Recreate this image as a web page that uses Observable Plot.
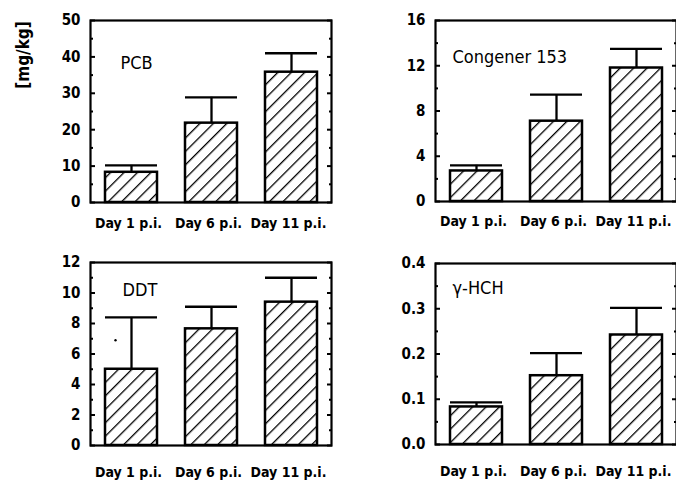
<!DOCTYPE html>
<html>
<head>
<meta charset="utf-8">
<script src="https://cdn.jsdelivr.net/npm/d3@7"></script>
<script src="https://cdn.jsdelivr.net/npm/@observablehq/plot@0.6"></script>
<style>
  body { margin: 0; background: #fff; }
  #wrap { position: relative; width: 676px; height: 489px; overflow: hidden; background: #fff; }
  #wrap > div.panel { position: absolute; }
  #ylab { position: absolute; left: 23px; top: 55px; transform: translate(-50%, -50%) rotate(-90deg);
    font: bold 17px "DejaVu Sans Condensed", sans-serif; white-space: nowrap; }
  svg text { fill: #000; }
</style>
</head>
<body>
<svg width="0" height="0" style="position:absolute">
  <defs>
    <pattern id="hatch" patternUnits="userSpaceOnUse" width="9.5" height="9.5" patternTransform="rotate(45)">
      <rect width="9.5" height="9.5" fill="#fff"></rect>
      <line x1="0" y1="0" x2="0" y2="9.5" stroke="#000" stroke-width="2.6"></line>
    </pattern>
  </defs>
</svg>
<div id="wrap"><div id="ylab">[mg/kg]</div></div>
<script>
const categories = ["Day 1 p.i.", "Day 6 p.i.", "Day 11 p.i."];

const pcbMean = [8.3, 21.8, 35.8];
const pcbSD   = [1.9, 7.1, 5.2];
const pcbTicks = [0, 10, 20, 30, 40, 50];

const congMean = [2.7, 7.1, 11.8];
const congSD   = [0.5, 2.35, 1.7];
const congTicks = [0, 4, 8, 12, 16];

const ddtMean = [5.0, 7.65, 9.4];
const ddtSD   = [3.4, 1.45, 1.6];
const ddtTicks = [0, 2, 4, 6, 8, 10, 12];
const ddtSpeck = [6.9];

const hchMean = [0.083, 0.152, 0.242];
const hchSD   = [0.01, 0.05, 0.06];
const hchTicks = [0.0, 0.1, 0.2, 0.3, 0.4];

const font = '"DejaVu Sans Condensed", sans-serif';

// pick a narrow font for the category labels if one is installed
function hasFont(name) {
  const c = document.createElement("canvas").getContext("2d");
  c.font = "20px monospace";
  const base = c.measureText("Day 11 p.i. mmmWW").width;
  c.font = `20px "${name}", monospace`;
  return c.measureText("Day 11 p.i. mmmWW").width !== base;
}
const narrow = hasFont("Liberation Sans Narrow");
const catFont = narrow ? '"Liberation Sans Narrow", sans-serif' : font;
const catSize = narrow ? 17 : 14;

function panel({title, mean, sd, ticks, minor, fmt, left, top, w, h, m, tdx, tdy, labelDy, speck}) {
  const data = categories.map((c, i) => ({c, v: mean[i], hi: mean[i] + sd[i]}));
  const ymax = ticks[ticks.length - 1];
  const marks = [
    Plot.rectY(data, {x: "c", y: "v", fill: "url(#hatch)", stroke: "#000", strokeWidth: 2.5}),
    Plot.ruleX(data, {x: "c", y1: "v", y2: "hi", stroke: "#000", strokeWidth: 2.3}),
    Plot.tickY(data, {x: "c", y: "hi", stroke: "#000", strokeWidth: 2.3}),
    Plot.axisY({ticks, tickSize: 0, tickPadding: 10, tickFormat: fmt,
      fontSize: 15, fontWeight: "bold", fontFamily: font}),
    Plot.axisY({ticks, anchor: "left", tickSize: -5, tickFormat: () => "", strokeWidth: 2}),
    Plot.axisY({ticks: minor, anchor: "left", tickSize: -3, tickFormat: () => "", strokeWidth: 2}),
    Plot.axisY({ticks, anchor: "right", tickSize: -5, tickFormat: () => "", strokeWidth: 2}),
    Plot.axisY({ticks: minor, anchor: "right", tickSize: -3, tickFormat: () => "", strokeWidth: 2}),
    Plot.axisX({tickSize: 0, tickPadding: labelDy, fontSize: catSize, fontWeight: "bold", fontFamily: catFont, dx: -3}),
    Plot.frame({stroke: "#000", strokeWidth: 2.2}),
    Plot.text([title], {frameAnchor: "top-left", dx: tdx, dy: tdy, textAnchor: "start", lineAnchor: "middle",
      fontSize: 18, fontFamily: font, fill: "#000"})
  ];
  if (speck) marks.push(Plot.dot(speck, {x: () => categories[0], y: d => d, r: 1.2, fill: "#000", dx: -16}));
  const chart = Plot.plot({
    width: w, height: h,
    marginLeft: m[0], marginRight: m[1], marginTop: m[2], marginBottom: m[3],
    style: {background: "transparent", color: "#000"},
    x: {type: "band", domain: categories, paddingInner: 0.35, paddingOuter: 0.175, label: null},
    y: {domain: [0, ymax], label: null},
    marks
  });
  const d = document.createElement("div");
  d.className = "panel";
  d.style.left = left + "px";
  d.style.top = top + "px";
  d.appendChild(chart);
  document.getElementById("wrap").appendChild(d);
}

function minorOf(ticks) {
  const out = [];
  for (let i = 0; i < ticks.length - 1; i++) out.push((ticks[i] + ticks[i + 1]) / 2);
  return out;
}

panel({title: "PCB", mean: pcbMean, sd: pcbSD, ticks: pcbTicks, minor: minorOf(pcbTicks), fmt: d3.format("d"),
  left: 0, top: 0, w: 338, h: 245, m: [90, 7, 20, 43], tdx: 30, tdy: 43, labelDy: 16});
panel({title: "Congener 153", mean: congMean, sd: congSD, ticks: congTicks, minor: minorOf(congTicks), fmt: d3.format("d"),
  left: 338, top: 0, w: 338, h: 245, m: [97, 0, 20, 44], tdx: 17, tdy: 37, labelDy: 15});
panel({title: "DDT", mean: ddtMean, sd: ddtSD, ticks: ddtTicks, minor: minorOf(ddtTicks), fmt: d3.format("d"),
  left: 0, top: 245, w: 338, h: 244, m: [90, 7, 17, 44], tdx: 32, tdy: 28, labelDy: 22, speck: ddtSpeck});
panel({title: "γ-HCH", mean: hchMean, sd: hchSD, ticks: hchTicks, minor: minorOf(hchTicks), fmt: d3.format(".1f"),
  left: 338, top: 245, w: 338, h: 244, m: [97, 0, 18, 45], tdx: 17, tdy: 25, labelDy: 22});
</script>
</body>
</html>
